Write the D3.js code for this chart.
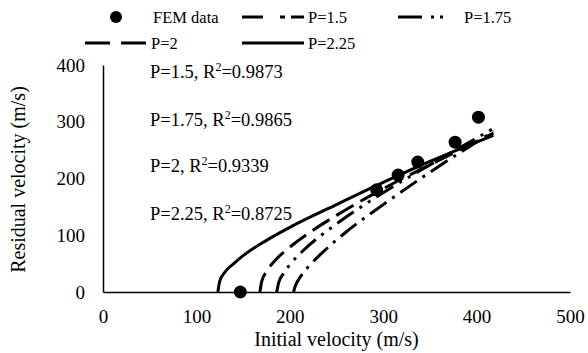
<!DOCTYPE html>
<html>
<head>
<meta charset="utf-8">
<script src="https://cdn.jsdelivr.net/npm/d3@7"></script>
<style>
  body { margin: 0; background: #fff; }
  svg text { font-family: "Liberation Serif", "Times New Roman", serif; fill: #000; }
</style>
</head>
<body>
<svg id="chart" width="588" height="353"></svg>
<script>
// FEM results (initial velocity vs residual velocity)
const femVi = [147, 293, 316, 337, 377, 402];
const femVr = [0, 180, 206, 229, 264, 308];

// Lambert-Andrew fitted curves
const p15Vi = [204, 206, 211, 219, 234, 259, 300, 350, 418];
const p15Vr = [0, 11, 26, 43, 68, 104, 154, 211, 283];
const p175Vi = [186, 188, 193, 200, 215, 250, 300, 350, 418];
const p175Vr = [0, 16, 32, 48, 74, 120, 175, 224, 288];
const p2Vi = [168, 170, 175, 185, 200, 225, 250, 300, 350, 418];
const p2Vr = [0, 19, 36, 57, 79, 109, 135, 182, 224, 280];
const p225Vi = [123, 125, 130, 140, 150, 175, 200, 250, 300, 350, 418];
const p225Vr = [0, 19, 34, 50, 64, 91, 114, 154, 193, 230, 276];

const xTicks = [0, 100, 200, 300, 400, 500];
const yTicks = [0, 100, 200, 300, 400];

const fitLabels = ["P=1.5", "P=1.75", "P=2", "P=2.25"];
const fitR2 = ["0.9873", "0.9865", "0.9339", "0.8725"];

const svg = d3.select("#chart");

// scales
const x = d3.scaleLinear().domain([0, 500]).range([103, 570]);
const y = d3.scaleLinear().domain([0, 400]).range([292, 65]);

// axes (no tick marks, just the lines and labels)
const xAxis = svg.append("g")
    .attr("transform", "translate(0," + y(0) + ")")
    .call(d3.axisBottom(x).tickValues(xTicks).tickSize(0).tickPadding(18));
const yAxis = svg.append("g")
    .attr("transform", "translate(" + x(0) + ",0)")
    .call(d3.axisLeft(y).tickValues(yTicks).tickSize(0).tickPadding(18));

[xAxis, yAxis].forEach(g => {
    g.select(".domain").attr("stroke", "#000").attr("stroke-width", 1.5);
    g.selectAll("text")
        .style("font-family", "Liberation Serif")
        .style("font-size", "19px")
        .attr("fill", "#000");
});

// axis titles
svg.append("text")
    .attr("x", (x(0) + x(500)) / 2)
    .attr("y", 346)
    .attr("text-anchor", "middle")
    .style("font-size", "20px")
    .text("Initial velocity (m/s)");

svg.append("text")
    .attr("transform", "translate(25," + (y(200) + 1) + ") rotate(-90)")
    .attr("text-anchor", "middle")
    .style("font-size", "20px")
    .text("Residual velocity (m/s)");

// curves
const series = [
    {vi: p15Vi, vr: p15Vr, dash: "20,7,3,7"},
    {vi: p175Vi, vr: p175Vr, dash: "20,7,3,7,3,7"},
    {vi: p2Vi, vr: p2Vr, dash: "20,8"},
    {vi: p225Vi, vr: p225Vr, dash: null}
];

const line = d3.line()
    .x(d => x(d[0]))
    .y(d => y(d[1]))
    .curve(d3.curveMonotoneX);

series.forEach(s => {
    svg.append("path")
        .datum(d3.zip(s.vi, s.vr))
        .attr("fill", "none")
        .attr("stroke", "#000")
        .attr("stroke-width", 3)
        .attr("stroke-dasharray", s.dash)
        .attr("d", line);
});

// FEM data points
svg.selectAll("circle.fem")
    .data(d3.zip(femVi, femVr))
    .enter()
    .append("circle")
    .attr("class", "fem")
    .attr("cx", d => x(d[0]))
    .attr("cy", d => y(d[1]))
    .attr("r", 6.5)
    .attr("fill", "#000");

// R^2 annotations
const noteY = [78, 126, 172, 220];
fitLabels.forEach((lab, i) => {
    const t = svg.append("text")
        .attr("x", 150)
        .attr("y", noteY[i])
        .style("font-size", "18.5px");
    t.append("tspan").text(lab + ", R");
    t.append("tspan").attr("dy", -7).style("font-size", "12px").text("2");
    t.append("tspan").attr("dy", 7).text("=" + fitR2[i]);
});

// legend
const legend = [
    {label: "FEM data", marker: true, x: 116, y: 17},
    {label: "P=1.5", dash: "21,17,5,6", x: 242, y: 17},
    {label: "P=1.75", dash: "24,9,3,6,3,30", x: 398, y: 17},
    {label: "P=2", dash: "25,11", x: 85, y: 43},
    {label: "P=2.25", dash: null, x: 242, y: 43}
];

legend.forEach(l => {
    if (l.marker) {
        svg.append("circle").attr("cx", l.x).attr("cy", l.y).attr("r", 6).attr("fill", "#000");
        svg.append("text").attr("x", 153).attr("y", l.y + 5.5)
            .style("font-size", "16.5px").text(l.label);
    } else {
        svg.append("line")
            .attr("x1", l.x).attr("x2", l.x + 62)
            .attr("y1", l.y).attr("y2", l.y)
            .attr("stroke", "#000").attr("stroke-width", 3)
            .attr("stroke-dasharray", l.dash);
        svg.append("text").attr("x", l.x + 66).attr("y", l.y + 5.5)
            .style("font-size", "16.5px").text(l.label);
    }
});
</script>
</body>
</html>
